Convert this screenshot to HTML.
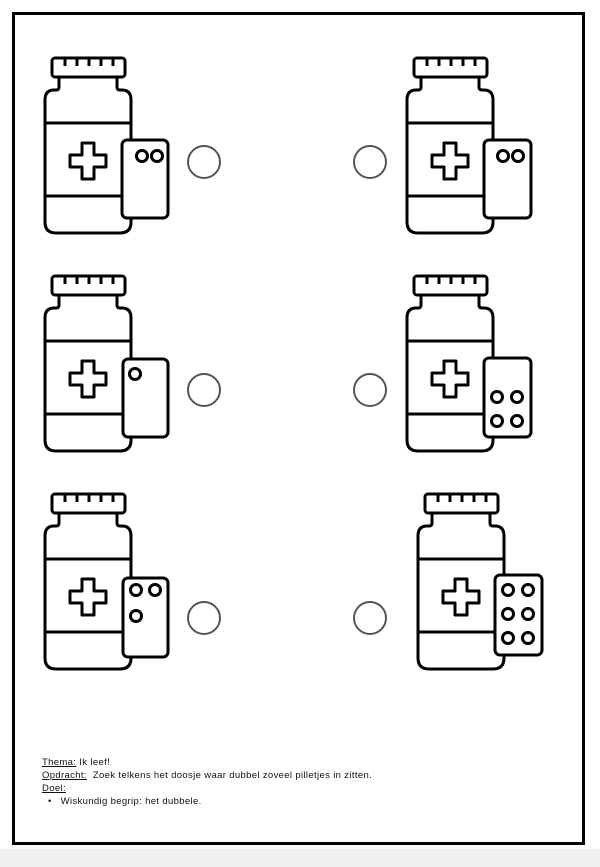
<!DOCTYPE html>
<html><head><meta charset="utf-8"><style>
html,body{margin:0;padding:0;width:600px;height:867px;background:#fff;overflow:hidden}
.txt{position:absolute;left:42px;font-family:"Liberation Sans",sans-serif;font-size:9.5px;letter-spacing:0.35px;color:#111;line-height:13px}
u{text-decoration:underline}
</style></head><body>
<div style="position:absolute;left:0;top:849px;width:600px;height:18px;background:#eef0f2"></div>
<svg width="600" height="867" style="position:absolute;left:0;top:0">
<defs>
<g id="b" fill="#fff" stroke="#000" stroke-width="3" stroke-linejoin="round">
  <rect x="8" y="1" width="73" height="19" rx="3"/>
  <path d="M21 1v8M33 1v8M45 1v8M57 1v8M69 1v8" />
  <path d="M15 20v10q0 3-3 3h-2q-9 0-9 10v122q0 11 11 11h64q11 0 11-11v-122q0-10-9-10h-2q-3 0-3-3v-10z"/>
  <path d="M1 66h86M1 139h86" fill="none"/>
  <path d="M38 86h12v12h12v12h-12v12h-12v-12h-12v-12h12z"/>
</g>
</defs>
<rect x="13.5" y="13.5" width="570" height="830" fill="none" stroke="#000" stroke-width="3"/>
<g fill="#fff" stroke="#000" stroke-width="3">
<use href="#b" x="44" y="57"/>
<rect x="122" y="140" width="46" height="78" rx="5"/>
<circle cx="142" cy="156" r="5.5"/><circle cx="157" cy="156" r="5.5"/>

<use href="#b" x="406" y="57"/>
<rect x="484" y="140" width="47" height="78" rx="5"/>
<circle cx="503" cy="156" r="5.5"/><circle cx="518" cy="156" r="5.5"/>

<use href="#b" x="44" y="275"/>
<rect x="123" y="359" width="45" height="78" rx="5"/>
<circle cx="135" cy="374" r="5.5"/>

<use href="#b" x="406" y="275"/>
<rect x="484" y="358" width="47" height="79" rx="5"/>
<circle cx="497" cy="397" r="5.5"/><circle cx="517" cy="397" r="5.5"/>
<circle cx="497" cy="421" r="5.5"/><circle cx="517" cy="421" r="5.5"/>

<use href="#b" x="44" y="493"/>
<rect x="123" y="578" width="45" height="79" rx="5"/>
<circle cx="136" cy="590" r="5.5"/><circle cx="155" cy="590" r="5.5"/>
<circle cx="136" cy="616" r="5.5"/>

<use href="#b" x="417" y="493"/>
<rect x="495" y="575" width="47" height="80" rx="5"/>
<circle cx="508" cy="590" r="5.5"/><circle cx="528" cy="590" r="5.5"/>
<circle cx="508" cy="614" r="5.5"/><circle cx="528" cy="614" r="5.5"/>
<circle cx="508" cy="638" r="5.5"/><circle cx="528" cy="638" r="5.5"/>
</g>
<g fill="none" stroke="#555" stroke-width="2">
<circle cx="204" cy="162" r="16"/><circle cx="370" cy="162" r="16"/>
<circle cx="204" cy="390" r="16"/><circle cx="370" cy="390" r="16"/>
<circle cx="204" cy="618" r="16"/><circle cx="370" cy="618" r="16"/>
</g>
</svg>
<div class="txt" style="top:756px"><u>Thema:</u> Ik leef!</div>
<div class="txt" style="top:769px"><u>Opdracht:</u>&nbsp; Zoek telkens het doosje waar dubbel zoveel pilletjes in zitten.</div>
<div class="txt" style="top:782px"><u>Doel:</u></div>
<div class="txt" style="top:795px;left:48px">•&nbsp;&nbsp; Wiskundig begrip: het dubbele.</div>
</body></html>
